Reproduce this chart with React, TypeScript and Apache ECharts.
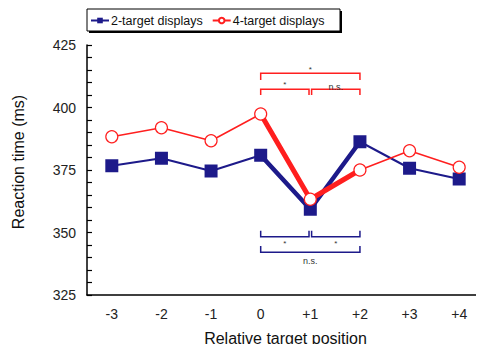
import React, { useEffect, useRef } from "react";
import * as echarts from "echarts";

const positions = ["-3", "-2", "-1", "0", "+1", "+2", "+3", "+4"];
const twoTarget = [376.7, 379.7, 374.6, 380.9, 359.3, 386.3, 375.7, 371.4];
const fourTarget = [388.3, 391.9, 386.7, 397.4, 363.3, 375.0, 382.7, 376.1];
const highlightIdx = [3, 4, 5];
const yTicks = { min: 325, max: 425, step: 25 };

// brackets: [fromIndex, toIndex, lineValue, endValue, labelValue, label, side(-1 left inset, 1 right inset, 0 none)]
const redBrackets: [number, number, number, number, number, string, number][] = [
  [3, 5, 413.7, 411.0, 415.3, "*", 0],
  [3, 4, 407.3, 405.0, 409.3, "*", -1],
  [4, 5, 407.3, 405.0, 408.3, "n.s.", 1],
];
const blueBrackets: [number, number, number, number, number, string, number][] = [
  [3, 4, 348.3, 350.7, 345.6, "*", -1],
  [4, 5, 348.3, 350.7, 345.6, "*", 1],
  [3, 5, 342.1, 344.6, 338.6, "n.s.", 0],
];

const BLUE = "#1d1a8a";
const RED = "#ff1f1f";
const FONT = "Liberation Sans, Arial, sans-serif";

function bracketSeries(name: string, data: any[], color: string) {
  return {
    name,
    type: "custom",
    silent: true,
    clip: false,
    z: 6,
    data,
    renderItem: (params: any, api: any) => {
      const item = data[params.dataIndex];
      const from = item[0];
      const to = item[1];
      const lv = item[2];
      const ev = item[3];
      const tv = item[4];
      const label = item[5];
      const side = item[6];
      const p1 = api.coord([from, lv]);
      const p2 = api.coord([to, lv]);
      const e1 = api.coord([from, ev]);
      const t = api.coord([from, tv]);
      let x1 = p1[0];
      let x2 = p2[0];
      if (side === -1) x2 -= 1.3;
      if (side === 1) x1 += 1.3;
      return {
        type: "group",
        children: [
          {
            type: "polyline",
            shape: { points: [[x1, e1[1]], [x1, p1[1]], [x2, p2[1]], [x2, e1[1]]] },
            style: { stroke: color, lineWidth: 1.5, fill: null },
          },
          {
            type: "text",
            style: {
              text: label,
              x: (x1 + x2) / 2,
              y: t[1],
              align: "center",
              verticalAlign: "middle",
              fill: "#333",
              font: `${label === "*" ? 8 : 9}px ${FONT}`,
            },
          },
        ],
      };
    },
  };
}

export default function App() {
  const ref = useRef<HTMLDivElement>(null);
  useEffect(() => {
    if (!ref.current) return;
    const chart = echarts.init(ref.current, undefined, { renderer: "svg" });
    const hl = (arr: number[]) => arr.map((v, i) => (highlightIdx.includes(i) ? v : "-"));
    chart.setOption({
      animation: false,
      backgroundColor: "#fff",
      textStyle: { fontFamily: FONT },
      grid: { left: 87, top: 45, width: 400, height: 250 },
      graphic: [
        { type: "rect", z: 0, shape: { x: 89, y: 11, width: 253, height: 22 }, style: { fill: "#000" } },
        { type: "rect", z: 1, shape: { x: 87, y: 9, width: 253, height: 22 }, style: { fill: "#fff", stroke: "#000", lineWidth: 1 } },
        {
          type: "text",
          x: 18,
          y: 162,
          rotation: Math.PI / 2,
          style: {
            text: "Reaction time (ms)",
            align: "center",
            verticalAlign: "middle",
            font: `16px ${FONT}`,
            fill: "#111",
          },
        },
      ],
      legend: {
        left: 87,
        top: 9,
        z: 10,
        padding: [5, 3, 5, 3],
        itemGap: 9,
        itemWidth: 18,
        itemHeight: 7,
        textStyle: { fontSize: 12.5, color: "#111", fontFamily: FONT, padding: [0, 0, 0, -3] },
        data: ["2-target displays", "4-target displays"],
      },
      xAxis: {
        type: "category",
        data: positions,
        boundaryGap: true,
        name: "Relative target position",
        nameLocation: "middle",
        nameGap: 35,
        nameTextStyle: { fontSize: 16, color: "#111", fontFamily: FONT },
        axisLine: { lineStyle: { color: "#000", width: 1.5 } },
        axisTick: { inside: true, length: 4, lineStyle: { color: "#000", width: 1.2 } },
        axisLabel: { fontSize: 14, color: "#222", margin: 12, fontFamily: FONT },
        splitLine: { show: false },
      },
      yAxis: {
        type: "value",
        min: yTicks.min,
        max: yTicks.max,
        interval: yTicks.step,
        axisLine: { show: true, lineStyle: { color: "#000", width: 1.5 } },
        axisTick: { show: true, inside: true, length: 5, lineStyle: { color: "#000", width: 1.2 } },
        minorTick: { show: true, splitNumber: 5, length: 5, lineStyle: { color: "#000", width: 1.2 } },
        axisLabel: { fontSize: 14, color: "#222", margin: 11, fontFamily: FONT },
        splitLine: { show: false },
      },
      series: [
        {
          name: "2-target displays",
          type: "line",
          data: twoTarget,
          symbol: "rect",
          symbolSize: 13,
          lineStyle: { color: BLUE, width: 2 },
          itemStyle: { color: BLUE },
          z: 3,
        },
        {
          name: "4-target displays",
          type: "line",
          data: fourTarget,
          symbol: "circle",
          symbolSize: 12,
          lineStyle: { color: RED, width: 1.5 },
          itemStyle: { color: "#fff", borderColor: RED, borderWidth: 1.2 },
          z: 5,
        },
        {
          name: "2-target highlight",
          type: "line",
          data: hl(twoTarget),
          symbol: "none",
          lineStyle: { color: BLUE, width: 4.5 },
          itemStyle: { color: BLUE },
          z: 2,
        },
        {
          name: "4-target highlight",
          type: "line",
          data: hl(fourTarget),
          symbol: "none",
          lineStyle: { color: RED, width: 5 },
          itemStyle: { color: RED },
          z: 4,
        },
        bracketSeries("red brackets", redBrackets, RED),
        bracketSeries("blue brackets", blueBrackets, BLUE),
      ],
    });
    return () => chart.dispose();
  }, []);
  return <div ref={ref} style={{ width: 484, height: 352, margin: -8 }} />;
}
